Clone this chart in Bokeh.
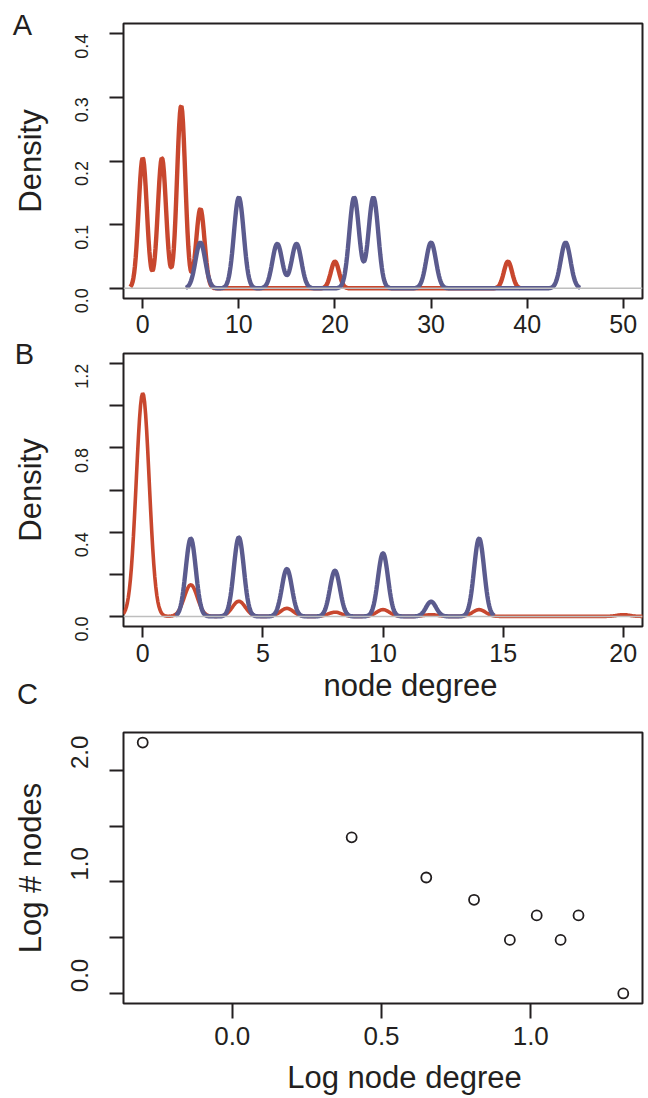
import math
import numpy as np
from bokeh.plotting import figure
from bokeh.models import FixedTicker, Label, Range1d, Span, GridBox
from bokeh.layouts import column
from bokeh.embed import file_html
from bokeh.resources import INLINE

FONT = "Liberation Sans"
RED = "#C8472E"
BLUE = "#5B5B8E"
GRAY = "#BEBEBE"
INK = "#231F20"

# ---------------- data ----------------
# Panel A: density of node degree (peak positions and peak heights)
a_red_degree = [0, 2, 4, 6, 20, 38]
a_red_peak = [0.205, 0.205, 0.287, 0.125, 0.042, 0.042]
a_red_bw = 0.43
a_blue_degree = [6, 10, 14, 16, 22, 24, 30, 44]
a_blue_peak = [0.072, 0.143, 0.070, 0.070, 0.143, 0.143, 0.072, 0.072]
a_blue_bw = 0.51
a_xlim = [0, 50]
a_ylim = [0.0, 0.4]
a_xticks = [0, 10, 20, 30, 40, 50]
a_xlabels = ["0", "10", "20", "30", "40", "50"]
a_yticks = [0.0, 0.1, 0.2, 0.3, 0.4]
a_ylabels = ["0.0", "0.1", "0.2", "0.3", "0.4"]

# Panel B
b_red_degree = [0, 2, 4, 6, 8, 10, 12, 14, 20]
b_red_peak = [1.06, 0.15, 0.072, 0.038, 0.02, 0.032, 0.008, 0.032, 0.008]
b_red_bw = 0.27
b_blue_degree = [2, 4, 6, 8, 10, 12, 14]
b_blue_peak = [0.37, 0.375, 0.225, 0.217, 0.30, 0.07, 0.37]
b_blue_bw = 0.21
b_xlim = [0, 20]
b_ylim = [0.0, 1.2]
b_xticks = [0, 5, 10, 15, 20]
b_xlabels = ["0", "5", "10", "15", "20"]
b_yticks = [0.0, 0.2, 0.4, 0.6, 0.8, 1.0, 1.2]
b_ylabels = ["0.0", "", "0.4", "", "0.8", "", "1.2"]

# Panel C: log-log degree distribution
c_log_degree = [-0.30, 0.40, 0.65, 0.81, 0.93, 1.02, 1.10, 1.16, 1.31]
c_log_nodes = [2.25, 1.40, 1.04, 0.84, 0.48, 0.70, 0.48, 0.70, 0.00]
c_xticks = [0.0, 0.5, 1.0]
c_xlabels = ["0.0", "0.5", "1.0"]
c_yticks = [0.0, 0.5, 1.0, 1.5, 2.0]
c_ylabel_at = [0.0, 1.0, 2.0]
c_ylabels = ["0.0", "1.0", "2.0"]
c_ytitle = "Log # nodes"

panel_letters = ["A", "B", "C"]
x_titles = ["node degree", "Log node degree"]

# ---------------- geometry ----------------
FIG_W = 648
BORDER_L = 123
BORDER_R = 6
A_H, A_TOP, A_BOTTOM = 345, 23, 47
B_H, B_TOP, B_BOTTOM = 360, 8, 79
C_H, C_TOP, C_BOTTOM = 393, 27, 95
TOTAL_H = A_H + B_H + C_H


def density_curve(degrees, peaks, bw, n=512):
    d = np.asarray(degrees, float)
    h = np.asarray(peaks, float)
    xs = np.linspace(d.min() - 3 * bw, d.max() + 3 * bw, n)
    ys = (h[None, :] * np.exp(-0.5 * ((xs[:, None] - d[None, :]) / bw) ** 2)).sum(axis=1)
    return xs, ys


def r_range(lo, hi):
    pad = 0.04 * (hi - lo)
    return Range1d(lo - pad, hi + pad)


def style_axis(ax):
    ax.axis_line_color = None
    ax.major_tick_in = 0
    ax.minor_tick_line_color = None
    ax.major_tick_line_color = INK
    ax.major_tick_line_width = 2
    ax.major_label_text_font = FONT
    ax.major_label_text_color = INK
    ax.axis_label_text_font = FONT
    ax.axis_label_text_font_style = "normal"
    ax.axis_label_text_color = INK


def make_fig(height, xr, yr, top, bottom):
    p = figure(width=FIG_W, height=height, x_range=xr, y_range=yr,
               output_backend="svg", toolbar_location=None,
               min_border_left=BORDER_L, min_border_right=BORDER_R,
               min_border_top=top, min_border_bottom=bottom)
    p.grid.visible = False
    p.outline_line_color = INK
    p.outline_line_width = 2
    p.outline_line_alpha = 1
    p.background_fill_color = "white"
    p.border_fill_color = "white"
    for ax in p.axis:
        style_axis(ax)
    return p


def set_ticks(ax, ticks, labels):
    ax.ticker = FixedTicker(ticks=list(ticks))
    ax.major_label_overrides = {t: lab for t, lab in zip(ticks, labels)}


def density_y_axis(p):
    ax = p.yaxis[0]
    ax.major_tick_out = 14
    ax.major_label_standoff = 28
    ax.major_label_text_font_size = "18px"
    ax.major_label_orientation = math.pi / 2
    ax.axis_label = "Density"
    ax.axis_label_text_font_size = "31px"
    ax.axis_label_standoff = 18


# ---------------- panel A ----------------
pa = make_fig(A_H, r_range(*a_xlim), r_range(*a_ylim), A_TOP, A_BOTTOM)
set_ticks(pa.xaxis[0], a_xticks, a_xlabels)
set_ticks(pa.yaxis[0], a_yticks, a_ylabels)
pa.xaxis.major_tick_out = 10
pa.xaxis.major_label_standoff = 6
pa.xaxis.major_label_text_font_size = "25px"
density_y_axis(pa)

xs, ys = density_curve(a_red_degree, a_red_peak, a_red_bw)
pa.line(xs, ys, line_color=RED, line_width=4.4)
xs, ys = density_curve(a_blue_degree, a_blue_peak, a_blue_bw)
pa.line(xs, ys, line_color=BLUE, line_width=4.4)
pa.add_layout(Span(location=0, dimension="width", line_color=GRAY, line_width=1.5))

# ---------------- panel B ----------------
pb = make_fig(B_H, r_range(*b_xlim), r_range(*b_ylim), B_TOP, B_BOTTOM)
set_ticks(pb.xaxis[0], b_xticks, b_xlabels)
set_ticks(pb.yaxis[0], b_yticks, b_ylabels)
pb.xaxis.major_tick_out = 11
pb.xaxis.major_label_standoff = 6
pb.xaxis.major_label_text_font_size = "25px"
density_y_axis(pb)

xs, ys = density_curve(b_red_degree, b_red_peak, b_red_bw)
pb.line(xs, ys, line_color=RED, line_width=3.6)
xs, ys = density_curve(b_blue_degree, b_blue_peak, b_blue_bw)
pb.line(xs, ys, line_color=BLUE, line_width=4.4)
pb.add_layout(Span(location=0, dimension="width", line_color=GRAY, line_width=1.5))

# ---------------- panel C ----------------
c_yr = r_range(min(c_log_nodes), max(c_log_nodes))
pc = make_fig(C_H, r_range(min(c_log_degree), max(c_log_degree)), c_yr, C_TOP, C_BOTTOM)
set_ticks(pc.xaxis[0], c_xticks, c_xlabels)
pc.xaxis.major_tick_out = 15
pc.xaxis.major_label_standoff = 8
pc.xaxis.major_label_text_font_size = "26px"
set_ticks(pc.yaxis[0], c_yticks, [""] * len(c_yticks))
pc.yaxis[0].major_tick_out = 14
pc.yaxis[0].major_label_standoff = 0

pc.scatter(c_log_degree, c_log_nodes, marker="circle", size=10, fill_color=None,
           line_color=INK, line_width=1.8)

# ---------------- overlay for free-standing texts (page pixel coordinates) ----------------
ov = figure(width=FIG_W, height=TOTAL_H, x_range=Range1d(0, FIG_W), y_range=Range1d(TOTAL_H, 0),
            x_axis_type=None, y_axis_type=None, output_backend="svg",
            toolbar_location=None, min_border=0)
ov.grid.visible = False
ov.outline_line_color = None
ov.background_fill_color = None
ov.border_fill_color = None


def ov_text(x, y, text, size, angle=0.0):
    ov.add_layout(Label(x=x, y=y, text=text, angle=angle, text_font=FONT,
                        text_font_size=size, text_color=INK,
                        text_align="center", text_baseline="alphabetic"))


letter_pos = [(22, 24), (24, 353), (27, 693)]
for (lx, ly), t in zip(letter_pos, panel_letters):
    ov_text(lx, ly, t, "29px")

title_pos = [(410, 685), (404, 1077)]
for (tx, ty), t in zip(title_pos, x_titles):
    ov_text(tx, ty, t, "31px")

# panel C y tick labels: in the reference they sit ~18 px above their ticks
c_frame_top = A_H + B_H + C_TOP
c_frame_h = C_H - C_TOP - C_BOTTOM
LABEL_LIFT_PX = 18
C_YLABEL_X = 79


def c_y_px(v):
    return c_frame_top + (c_yr.end - v) / (c_yr.end - c_yr.start) * c_frame_h


for v, t in zip(c_ylabel_at, c_ylabels):
    ov_text(C_YLABEL_X, c_y_px(v) - LABEL_LIFT_PX, t, "24px", angle=math.pi / 2)
ov_text(30, c_frame_top + c_frame_h / 2, c_ytitle, "31px", angle=math.pi / 2)

panels = column(pa, pb, pc, spacing=0)
grid = GridBox(children=[(panels, 0, 0), (ov, 0, 0)], spacing=0)
open("out.html", "w").write(file_html(grid, INLINE))
